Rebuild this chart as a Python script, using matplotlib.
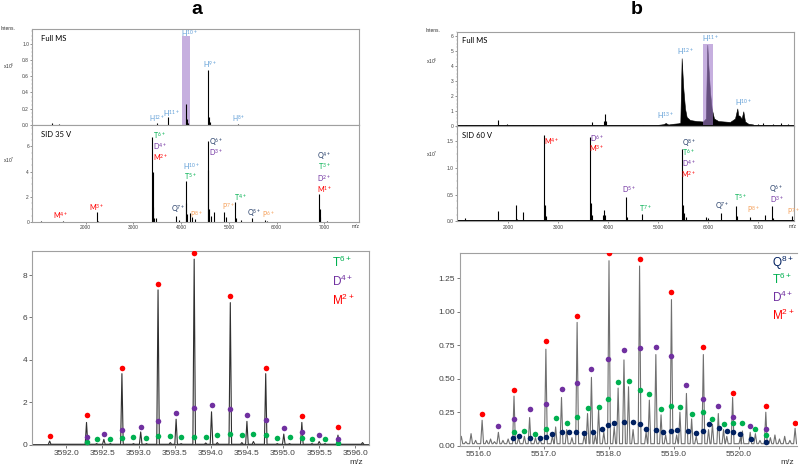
import matplotlib
matplotlib.use("Agg")
import matplotlib.pyplot as plt
from matplotlib.ticker import FixedLocator, FormatStrFormatter, AutoMinorLocator

plt.rcParams['font.family'] = ['Liberation Sans', 'DejaVu Sans']
plt.rcParams['mathtext.default'] = 'regular'

# colours of the oligomer labels
C_H = '#5b9bd5'
C_T = '#00b050'
C_D = '#7030a0'
C_M = '#ff0000'
C_Q = '#1f3864'
C_P = '#f5a05a'
C_Q2 = '#002060'
GRID = '#a0a0a0'

# ---------------- data: panel a, top (Full MS, x10^6) ----------------
a_full_mz = [1300, 1446, 3488, 3719, 4096, 4120, 4150, 4570, 4585, 4610, 5195]
a_full_int = [0.03, 0.015, 0.02, 0.10, 0.26, 0.08, 0.03, 0.675, 0.10, 0.04, 0.01]
a_sel_mz = [4013, 4187]
a_sel_top = 1.09

# panel a, SID 35 V (x10^7)
a_sid_mz = [1060, 1530, 2231, 2260, 3396, 3402, 3410, 3440, 3470, 3893, 3950,
            4096, 4105, 4115, 4186, 4230, 4290, 4564, 4572, 4580, 4620, 4680,
            4893, 4930, 5137, 5160, 5250, 5493, 5750, 5800, 6891, 6900, 6910, 7050]
a_sid_int = [0.05, 0.10, 0.77, 0.10, 6.77, 4.0, 1.2, 0.3, 0.35, 0.5, 0.15,
             3.25, 1.5, 0.6, 0.7, 0.4, 0.2, 6.45, 4.1, 1.0, 0.5, 0.82,
             0.82, 0.4, 1.61, 0.3, 0.15, 0.29, 0.15, 0.08, 2.2, 1.0, 0.4, 0.05]

# ---------------- data: panel b, top (Full MS, x10^6) ----------------
b_full_mz = [1150, 1500, 1800, 1968, 2500, 3000, 3300, 3668, 3910, 3934, 3950,
             4700, 7000, 7100, 7300, 7450, 7600]
b_full_int = [0.05, 0.08, 0.38, 0.15, 0.05, 0.06, 0.05, 0.27, 0.3, 0.78, 0.3,
              0.05, 0.15, 0.2, 0.12, 0.2, 0.1]
b_env_mz = [5000, 5100, 5148, 5200, 5300, 5400, 5440, 5467, 5500, 5534, 5567,
            5634, 5767, 5894, 5950, 5980, 6000, 6034, 6067, 6114, 6200, 6434,
            6534, 6580, 6600, 6620, 6667, 6700, 6734, 6800, 6900]
b_env_int = [0.08, 0.12, 0.2, 0.1, 0.15, 0.18, 0.22, 4.52, 2.5, 1.17, 0.6,
             0.4, 0.33, 0.3, 0.5, 5.42, 4.07, 2.28, 1.17, 0.5, 0.33, 0.27,
             0.5, 1.17, 0.7, 0.7, 0.5, 0.98, 0.3, 0.15, 0.1]
b_sel_mz = [5894, 6088]
b_sel_top = 5.48

# panel b, SID 60 V (x10^7)
b_sid_mz = [1134, 1800, 2154, 2180, 2300, 2714, 2725, 2750, 3367, 3634, 3645,
            3680, 3900, 3914, 3940, 4360, 4375, 4674, 5474, 5485, 5510, 5550,
            5960, 6000, 6248, 6554, 6570, 6834, 7134, 7280, 7295, 7668]
b_sid_int = [0.07, 0.19, 0.30, 0.05, 0.17, 1.61, 0.3, 0.1, 0.03, 1.57, 0.35,
             0.12, 0.12, 0.22, 0.12, 0.46, 0.08, 0.13, 1.35, 0.3, 0.15, 0.08,
             0.08, 0.07, 0.15, 0.28, 0.1, 0.09, 0.12, 0.28, 0.06, 0.1]

# ---------------- data: panel a, bottom (zoom on 3593) ----------------
a_M_mz = [3591.77, 3592.28, 3592.77, 3593.27, 3593.77, 3594.27, 3594.76, 3595.26, 3595.76]
a_M_int = [0.42, 1.38, 3.60, 7.57, 9.06, 6.99, 3.64, 1.35, 0.82]
a_D_mz = [3592.28, 3592.52, 3592.77, 3593.03, 3593.27, 3593.52, 3593.77, 3594.01,
          3594.27, 3594.50, 3594.76, 3595.01, 3595.26, 3595.50, 3595.76]
a_D_int = [0.38, 0.50, 0.71, 0.85, 1.13, 1.48, 1.71, 1.85, 1.70, 1.38, 1.15, 0.78,
           0.58, 0.44, 0.28]
a_T_mz = [3592.28, 3592.42, 3592.61, 3592.77, 3592.93, 3593.11, 3593.27, 3593.44,
          3593.59, 3593.77, 3593.93, 3594.09, 3594.27, 3594.43, 3594.59, 3594.76,
          3594.92, 3595.09, 3595.26, 3595.40, 3595.58, 3595.76]
a_T_int = [0.14, 0.25, 0.28, 0.33, 0.36, 0.33, 0.41, 0.42, 0.36, 0.38, 0.36, 0.46,
           0.52, 0.46, 0.52, 0.44, 0.30, 0.35, 0.31, 0.28, 0.25, 0.09]
# spectrum trace peaks
a_line_mz = [3591.77, 3592.28, 3592.42, 3592.52, 3592.61, 3592.77, 3592.93, 3593.03,
             3593.11, 3593.27, 3593.44, 3593.52, 3593.59, 3593.77, 3593.93, 3594.01,
             3594.09, 3594.27, 3594.43, 3594.50, 3594.59, 3594.76, 3594.92, 3595.01,
             3595.09, 3595.26, 3595.40, 3595.50, 3595.58, 3595.76, 3596.10]
a_line_int = [0.17, 1.05, 0.05, 0.25, 0.05, 3.35, 0.05, 0.60, 0.05, 7.30, 0.10, 1.20,
              0.05, 8.75, 0.08, 1.55, 0.10, 6.70, 0.10, 1.10, 0.15, 3.35, 0.05, 0.50,
              0.05, 1.05, 0.05, 0.15, 0.05, 0.45, 0.10]

# ---------------- data: panel b, bottom (zoom on 5518) ----------------
b_M_mz = [5516.05, 5516.54, 5517.03, 5517.51, 5518.00, 5518.47, 5518.96, 5519.45,
          5519.90, 5520.41, 5520.86]
b_M_int = [0.234, 0.413, 0.782, 0.966, 1.434, 1.392, 1.150, 0.740, 0.396, 0.296, 0.172]
b_D_mz = [5516.30, 5516.54, 5516.78, 5517.03, 5517.27, 5517.51, 5517.73, 5517.99,
          5518.23, 5518.48, 5518.72, 5518.96, 5519.19, 5519.44, 5519.68, 5519.90,
          5520.17, 5520.41]
b_D_int = [0.149, 0.202, 0.271, 0.309, 0.423, 0.466, 0.575, 0.650, 0.712, 0.727,
           0.740, 0.672, 0.451, 0.349, 0.294, 0.212, 0.144, 0.122]
b_T_mz = [5516.54, 5516.70, 5516.87, 5517.03, 5517.18, 5517.35, 5517.51, 5517.67,
          5517.84, 5517.99, 5518.14, 5518.30, 5518.48, 5518.62, 5518.80, 5518.96,
          5519.09, 5519.27, 5519.44, 5519.59, 5519.76, 5519.90, 5520.05, 5520.25, 5520.41]
b_T_int = [0.100, 0.110, 0.087, 0.127, 0.204, 0.167, 0.217, 0.284, 0.291, 0.349,
           0.476, 0.486, 0.416, 0.383, 0.274, 0.294, 0.289, 0.234, 0.254, 0.202,
           0.162, 0.169, 0.167, 0.122, 0.082]
b_Q_mz = [5516.53, 5516.61, 5516.78, 5516.94, 5517.03, 5517.13, 5517.28, 5517.39,
          5517.50, 5517.62, 5517.75, 5517.89, 5517.99, 5518.08, 5518.23, 5518.37,
          5518.48, 5518.57, 5518.72, 5518.83, 5518.96, 5519.04, 5519.21, 5519.34,
          5519.45, 5519.53, 5519.69, 5519.81, 5519.91, 5520.02, 5520.18, 5520.41]
b_Q_int = [0.060, 0.072, 0.060, 0.057, 0.065, 0.087, 0.100, 0.100, 0.105, 0.097,
           0.102, 0.125, 0.157, 0.169, 0.179, 0.177, 0.159, 0.125, 0.120, 0.105,
           0.110, 0.120, 0.107, 0.097, 0.107, 0.162, 0.132, 0.110, 0.105, 0.087,
           0.047, 0.025]
b_line_mz = [5515.73, 5515.80, 5515.88, 5515.95, 5516.05, 5516.12, 5516.18, 5516.24,
             5516.30, 5516.37, 5516.45, 5516.54, 5516.61, 5516.70, 5516.78, 5516.87,
             5516.94, 5517.03, 5517.13, 5517.18, 5517.27, 5517.35, 5517.43, 5517.51,
             5517.62, 5517.67, 5517.73, 5517.79, 5517.84, 5517.92, 5518.00, 5518.08,
             5518.14, 5518.23, 5518.30, 5518.37, 5518.47, 5518.57, 5518.62, 5518.72,
             5518.80, 5518.87, 5518.96, 5519.04, 5519.09, 5519.19, 5519.27, 5519.34,
             5519.45, 5519.53, 5519.59, 5519.68, 5519.76, 5519.81, 5519.90, 5520.02,
             5520.05, 5520.17, 5520.25, 5520.32, 5520.41, 5520.48, 5520.55, 5520.62,
             5520.70, 5520.78, 5520.86]
b_line_int = [0.07, 0.03, 0.09, 0.04, 0.19, 0.04, 0.05, 0.03,
              0.10, 0.04, 0.05, 0.37, 0.06, 0.07, 0.21, 0.06,
              0.05, 0.72, 0.07, 0.14, 0.36, 0.12, 0.06, 0.92,
              0.08, 0.24, 0.51, 0.08, 0.27, 0.10, 1.38, 0.14,
              0.43, 0.64, 0.44, 0.12, 1.34, 0.10, 0.34, 0.68,
              0.23, 0.08, 1.09, 0.08, 0.25, 0.39, 0.20, 0.07,
              0.68, 0.12, 0.16, 0.24, 0.12, 0.07, 0.36, 0.06,
              0.11, 0.10, 0.09, 0.04, 0.25, 0.06, 0.08, 0.05,
              0.07, 0.04, 0.13]

W, H = 800, 467


def fx(x):
    return x / W


def fy(y):
    return 1 - y / H


def box(ax, color=GRID):
    for s in ax.spines.values():
        s.set_color(color)
        s.set_linewidth(0.8)


def sup(letter, charge):
    return letter + '$^{' + charge + '}$'


def label(ax, x, y, letter, charge, color, ha='center', size=5.2):
    ax.text(x, y, sup(letter, charge), color=color, ha=ha, va='center',
            fontsize=size, family=['Lato', 'DejaVu Sans'])


def trace(mz, h, base, hw):
    xs, ys = [], []
    for m, v in sorted(zip(mz, h)):
        xs += [m - hw, m, m + hw]
        ys += [base, v, base]
    return xs, ys


def top_axes(rect, xlim, ylim, yticks, fmt, xlabels):
    ax = fig.add_axes(rect)
    box(ax)
    ax.set_xlim(*xlim)
    ax.set_ylim(*ylim)
    ax.set_yticks(yticks)
    ax.yaxis.set_major_formatter(FormatStrFormatter(fmt))
    ax.yaxis.set_minor_locator(AutoMinorLocator(4))
    ax.set_xticks([2000, 3000, 4000, 5000, 6000, 7000])
    ax.tick_params(labelsize=3.5, length=1.5, width=0.4, pad=1, colors='#404040')
    ax.tick_params(which='minor', length=1, width=0.3, colors=GRID)
    if not xlabels:
        ax.tick_params(axis='x', labelbottom=False, length=0)
    return ax


fig = plt.figure(figsize=(8, 4.67), dpi=100)

# ---------- a / Full MS ----------
ax = top_axes([0.0406, 0.7323, 0.4082, 0.2056], (885, 7728), (0, 1.18),
              [0, 0.2, 0.4, 0.6, 0.8, 1.0], '%.1f', False)
ax.axhline(0, color='k', lw=0.6)
ax.vlines(a_full_mz, 0, a_full_int, color='k', lw=0.8)
ax.fill_between(a_sel_mz, 0, a_sel_top, color='#a47fcc', alpha=0.62, lw=0)
ax.text(0.025, 0.9, 'Full MS', transform=ax.transAxes, fontsize=5.5,
        family=['Lato', 'DejaVu Sans'], va='center')
label(ax, 4186, 1.125, 'H', '10+', C_H)
label(ax, 4605, 0.745, 'H', '9+', C_H)
label(ax, 3803, 0.14, 'H', '11+', C_H)
label(ax, 3488, 0.074, 'H', '12+', C_H, size=4.8)
label(ax, 5213, 0.074, 'H', '8+', C_H, size=4.8)

# ---------- a / SID ----------
ax = top_axes([0.0406, 0.5246, 0.4082, 0.2077], (885, 7728), (0, 7.7),
              [0, 2, 4, 6], '%d', True)
ax.axhline(0, color='k', lw=0.6)
ax.vlines(a_sid_mz, 0, a_sid_int, color='k', lw=0.8)
ax.text(0.025, 0.9, 'SID 35 V', transform=ax.transAxes, fontsize=5.5,
        family=['Lato', 'DejaVu Sans'], va='center')
label(ax, 3415, 6.9, 'T', '6+', C_T, ha='left')
label(ax, 3415, 5.98, 'D', '4+', C_D, ha='left')
label(ax, 3415, 5.1, 'M', '2+', C_M, ha='left')
label(ax, 4578, 6.37, 'Q', '6+', C_Q, ha='left')
label(ax, 4578, 5.5, 'D', '3+', C_D, ha='left')
label(ax, 4222, 4.39, 'H', '10+', C_H)
label(ax, 4186, 3.6, 'T', '5+', C_T)
label(ax, 7001, 5.24, 'Q', '4+', C_Q)
label(ax, 7001, 4.39, 'T', '3+', C_T)
label(ax, 7001, 3.47, 'D', '2+', C_D)
label(ax, 7001, 2.6, 'M', '1+', C_M)
label(ax, 3941, 1.0, 'Q', '7+', C_Q)
label(ax, 4327, 0.63, 'P', '8+', C_P)
label(ax, 1482, 0.48, 'M', '4+', C_M)
label(ax, 2231, 1.17, 'M', '3+', C_M)
label(ax, 4989, 1.21, 'P', '7+', C_P)
label(ax, 5234, 1.96, 'T', '4+', C_T)
label(ax, 5534, 0.74, 'Q', '5+', C_Q)
label(ax, 5827, 0.63, 'P', '6+', C_P)

# ---------- b / Full MS ----------
ax = top_axes([0.5713, 0.7302, 0.4212, 0.2023], (974, 7714), (0, 6.3),
              [0, 1, 2, 3, 4, 5, 6], '%d', False)
ax.axhline(0, color='k', lw=1.4)
ax.vlines(b_full_mz, 0, b_full_int, color='k', lw=0.8)
ax.fill_between(b_env_mz, 0, b_env_int, color='k', lw=0.4)
ax.fill_between(b_sel_mz, 0, b_sel_top, color='#a47fcc', alpha=0.62, lw=0)
ax.text(0.015, 0.9, 'Full MS', transform=ax.transAxes, fontsize=5.5,
        family=['Lato', 'DejaVu Sans'], va='center')
label(ax, 5554, 4.97, 'H', '12+', C_H)
label(ax, 6048, 5.82, 'H', '11+', C_H)
label(ax, 6700, 1.57, 'H', '10+', C_H)
label(ax, 5148, 0.72, 'H', '13+', C_H)

# ---------- b / SID ----------
ax = top_axes([0.5713, 0.5257, 0.4212, 0.2045], (974, 7714), (0, 1.77),
              [0, 0.5, 1.0, 1.5], '%.1f', True)
ax.axhline(0, color='k', lw=1.4)
ax.vlines(b_sid_mz, 0, b_sid_int, color='k', lw=0.8)
ax.text(0.015, 0.9, 'SID 60 V', transform=ax.transAxes, fontsize=5.5,
        family=['Lato', 'DejaVu Sans'], va='center')
label(ax, 2868, 1.49, 'M', '4+', C_M)
label(ax, 3768, 1.54, 'D', '6+', C_D)
label(ax, 3768, 1.35, 'M', '3+', C_M)
label(ax, 4420, 0.595, 'D', '5+', C_D)
label(ax, 4734, 0.25, 'T', '7+', C_T)
label(ax, 5608, 1.46, 'Q', '8+', C_Q, size=5)
label(ax, 5608, 1.275, 'T', '6+', C_T, size=5)
label(ax, 5608, 1.07, 'D', '4+', C_D, size=5)
label(ax, 5608, 0.87, 'M', '2+', C_M, size=5)
label(ax, 6274, 0.28, 'Q', '7+', C_Q)
label(ax, 6648, 0.44, 'T', '5+', C_T)
label(ax, 6900, 0.23, 'P', '8+', C_P)
label(ax, 7368, 0.595, 'Q', '6+', C_Q)
label(ax, 7368, 0.41, 'D', '3+', C_D)
label(ax, 7700, 0.19, 'P', '7+', C_P)

# ---------- a / zoom ----------
ax = fig.add_axes([0.0404, 0.0478, 0.4209, 0.4154])
box(ax)
xs, ys = trace(a_line_mz, a_line_int, 0.02, 0.018)
ax.axhline(0.02, color='#404040', lw=0.7)
ax.plot(xs, ys, color='#303030', lw=0.8)
ax.scatter(a_T_mz, a_T_int, s=16, color=C_T, zorder=3, lw=0)
ax.scatter(a_D_mz, a_D_int, s=16, color=C_D, zorder=4, lw=0)
ax.scatter(a_M_mz, a_M_int, s=16, color=C_M, zorder=5, lw=0)
ax.set_xlim(3591.53, 3596.19)
ax.set_ylim(0, 9.15)
ax.xaxis.set_major_locator(FixedLocator([3592.0, 3592.5, 3593.0, 3593.5, 3594.0,
                                         3594.5, 3595.0, 3595.5, 3596.0]))
ax.xaxis.set_major_formatter(FormatStrFormatter('%.1f'))
ax.set_yticks([0, 2, 4, 6, 8])
ax.tick_params(labelsize=6, length=2, width=0.5, pad=1.5, colors='#404040')

# ---------- b / zoom ----------
ax = fig.add_axes([0.575, 0.0456, 0.4213, 0.4133])
box(ax)
ax.spines['right'].set_visible(False)
xs, ys = trace(b_line_mz, b_line_int, 0.015, 0.022)
ax.plot(xs, ys, color='#707070', lw=0.8)
ax.scatter(b_T_mz, b_T_int, s=16, color=C_T, zorder=3, lw=0)
ax.scatter(b_D_mz, b_D_int, s=16, color=C_D, zorder=4, lw=0)
ax.scatter(b_M_mz, b_M_int, s=16, color=C_M, zorder=5, lw=0)
ax.scatter(b_Q_mz, b_Q_int, s=16, color=C_Q2, zorder=6, lw=0)
ax.set_xlim(5515.71, 5520.89)
ax.set_ylim(0, 1.44)
ax.set_xticks([5516.0, 5517.0, 5518.0, 5519.0, 5520.0])
ax.xaxis.set_major_formatter(FormatStrFormatter('%.1f'))
ax.set_yticks([0, 0.25, 0.5, 0.75, 1.0, 1.25])
ax.yaxis.set_major_formatter(FormatStrFormatter('%.2f'))
ax.tick_params(labelsize=6, length=2, width=0.5, pad=1.5, colors='#404040')

# ---------- figure texts ----------
fig.text(fx(196.7), fy(10), 'a', fontsize=14, fontweight='bold', ha='center', va='center')
fig.text(fx(636.7), fy(10), 'b', fontsize=14, fontweight='bold', ha='center', va='center')

small = dict(fontsize=3.5, color='#303030', ha='center', va='center')
fig.text(fx(8), fy(28), 'Intens.', **small)
fig.text(fx(9), fy(66), 'x10$^{6}$', **small)
fig.text(fx(9), fy(160), 'x10$^{7}$', **small)
fig.text(fx(356), fy(226), 'm/z', **small)
fig.text(fx(433), fy(31), 'Intens.', **small)
fig.text(fx(432), fy(61), 'x10$^{6}$', **small)
fig.text(fx(432), fy(154), 'x10$^{7}$', **small)
fig.text(fx(793), fy(226), 'm/z', **small)

fig.text(fx(356), fy(462), 'm/z', fontsize=6, color='#303030', ha='center', va='center')
fig.text(fx(787), fy(462), 'm/z', fontsize=6, color='#303030', ha='center', va='center')

leg = dict(fontsize=8.5, ha='left', va='center')
fig.text(fx(332), fy(262), sup('T', '6+'), color=C_T, **leg)
fig.text(fx(332), fy(281), sup('D', '4+'), color=C_D, **leg)
fig.text(fx(332), fy(300), sup('M', '2+'), color=C_M, **leg)
fig.text(fx(772), fy(263), sup('Q', '8+'), color=C_Q2, **leg)
fig.text(fx(772), fy(279.5), sup('T', '6+'), color=C_T, **leg)
fig.text(fx(772), fy(297), sup('D', '4+'), color=C_D, **leg)
fig.text(fx(772), fy(315), sup('M', '2+'), color=C_M, **leg)

fig.savefig('out.png', dpi=100)
